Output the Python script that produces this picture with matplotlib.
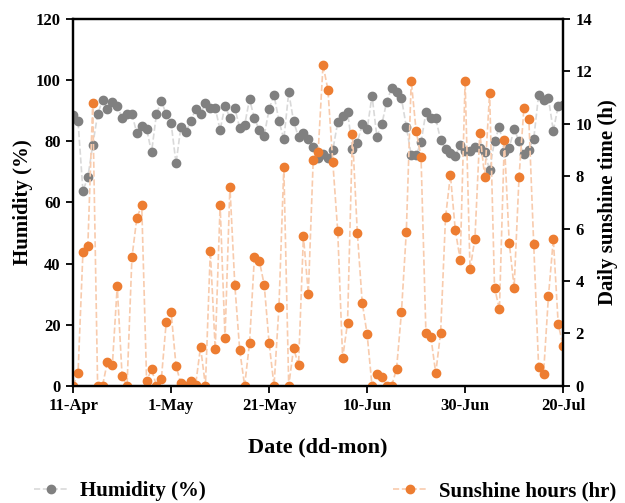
import numpy as np
import pandas as pd
import matplotlib
matplotlib.use("Agg")
import matplotlib.pyplot as plt
import matplotlib.dates as mdates

plt.rcParams['font.family'] = ['Liberation Serif', 'DejaVu Serif']
plt.rcParams['font.weight'] = 'bold'

# daily observations, 11-Apr .. 20-Jul
dates = pd.date_range('2021-04-11', '2021-07-20', freq='D')

humidity = [88.6, 86.6, 63.8, 68.2, 78.8, 88.8, 93.5, 90.6, 93.0, 91.7,
            87.5, 88.9, 88.9, 82.7, 84.9, 84.1, 76.4, 88.9, 93.2, 88.9,
            85.9, 72.8, 84.8, 82.9, 86.6, 90.6, 88.9, 92.5, 90.9, 90.9,
            83.7, 91.7, 87.6, 90.9, 84.3, 85.3, 93.8, 87.5, 83.7, 81.9,
            90.6, 95.1, 86.8, 80.7, 96.0, 86.5, 81.3, 82.6, 80.7, 78.0,
            74.4, 75.7, 74.7, 77.2, 86.2, 88.3, 89.7, 77.6, 79.6, 85.6,
            84.0, 94.9, 81.5, 85.6, 93.0, 97.4, 96.0, 94.1, 84.8, 75.5,
            75.5, 79.7, 89.5, 87.5, 87.5, 80.4, 77.5, 76.2, 75.2, 78.8,
            76.8, 76.8, 78.0, 77.9, 76.4, 70.6, 80.2, 84.7, 76.6, 77.9,
            84.0, 80.1, 75.7, 77.3, 80.8, 95.2, 93.5, 94.1, 83.4, 91.7,
            91.9]

sunshine = [0.0, 0.47, 5.1, 5.33, 10.8, 0.0, 0.0, 0.92, 0.78, 3.8,
            0.36, 0.0, 4.9, 6.4, 6.9, 0.17, 0.64, 0.0, 0.25, 2.43,
            2.8, 0.76, 0.09, 0.0, 0.2, 0.04, 1.48, 0.0, 5.15, 1.4,
            6.9, 1.82, 7.6, 3.85, 1.36, 0.0, 1.63, 4.93, 4.78, 3.85,
            1.63, 0.0, 2.99, 8.35, 0.0, 1.44, 0.78, 5.72, 3.51, 8.63,
            8.91, 12.25, 11.3, 8.53, 5.91, 1.06, 2.39, 9.6, 5.85, 3.17,
            1.97, 0.0, 0.46, 0.32, 0.0, 0.0, 0.64, 2.8, 5.89, 11.65,
            9.73, 8.75, 2.0, 1.88, 0.48, 2.03, 6.43, 8.05, 5.93, 4.82,
            11.65, 4.45, 5.61, 9.66, 7.96, 11.19, 3.75, 2.92, 9.37, 5.47,
            3.75, 7.96, 10.62, 10.2, 5.4, 0.72, 0.45, 3.41, 5.6, 2.35,
            1.53]

x_ticks = pd.to_datetime(['2021-04-11', '2021-05-01', '2021-05-21',
                          '2021-06-10', '2021-06-30', '2021-07-20'])

fig = plt.figure(figsize=(6.25, 5.03), dpi=100)
ax = fig.add_axes([0.117, 0.233, 0.784, 0.729])
ax2 = ax.twinx()

ax.plot(dates, humidity, color='#d9d9d9', ls='--', lw=1.2,
        marker='o', ms=6, mfc='#808080', mec='#808080', label='Humidity (%)')
ax2.plot(dates, sunshine, color='#f8cbad', ls='--', lw=1.2,
         marker='o', ms=6, mfc='#ed7d31', mec='#ed7d31', label='Sunshine hours (hr)')

ax.set_xlim(dates[0], dates[-1])
ax.set_ylim(0, 120)
ax.set_yticks(np.arange(0, 121, 20))
ax2.set_ylim(0, 14)
ax2.set_yticks(np.arange(0, 15, 2))
ax.set_xticks(x_ticks)
ax.xaxis.set_major_formatter(mdates.DateFormatter('%-d-%b'))

for a in (ax, ax2):
    for s in a.spines.values():
        s.set_linewidth(1.6)
        s.set_color('black')
    a.tick_params(direction='out', length=5, width=1.3, labelsize=12, pad=4)

ax.set_xlabel('Date (dd-mon)', fontsize=16, fontweight='bold', labelpad=17)
ax.set_ylabel('Humidity (%)', fontsize=15, fontweight='bold', labelpad=2)
ax2.set_ylabel('Daily sunshine time (h)', fontsize=15, fontweight='bold', labelpad=4)

h1, l1 = ax.get_legend_handles_labels()
h2, l2 = ax2.get_legend_handles_labels()
fig.legend(h1 + h2, l1 + l2, loc='lower center', bbox_to_anchor=(0.52, -0.034),
           ncol=2, frameon=False, fontsize=15, columnspacing=9,
           handlelength=1.6, handletextpad=0.6)

fig.savefig('out.png', dpi=100)
